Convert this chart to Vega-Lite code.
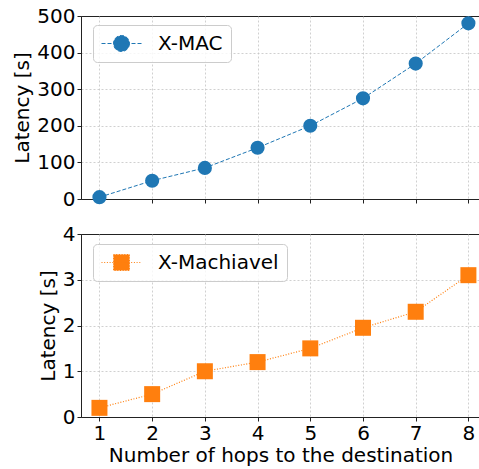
{
  "$schema": "https://vega.github.io/schema/vega-lite/v6.json",
  "padding": {"left": 12, "top": 5, "right": 0, "bottom": 2},
  "config": {
    "font": "DejaVu Sans",
    "view": {"stroke": "#222222", "strokeWidth": 1},
    "axis": {
      "labelFont": "DejaVu Sans",
      "labelFontSize": 20,
      "labelColor": "#000000",
      "titleFont": "DejaVu Sans",
      "titleFontSize": 20,
      "titleFontWeight": "normal",
      "titleColor": "#000000",
      "tickColor": "#222222",
      "domainColor": "#222222",
      "tickSize": 4,
      "labelPadding": 2,
      "grid": true,
      "gridColor": "#c4c4c4",
      "gridDash": [2, 2],
      "gridWidth": 0.8,
      "labelFlush": false,
      "labelOverlap": false
    },
    "legend": {
      "title": null,
      "orient": "none",
      "labelFont": "DejaVu Sans",
      "labelFontSize": 20,
      "labelColor": "#000000",
      "fillColor": "rgba(255,255,255,0.8)",
      "strokeColor": "#cccccc",
      "cornerRadius": 4,
      "padding": 8,
      "symbolSize": 400,
      "symbolOffset": 10,
      "labelOffset": 26,
      "symbolStrokeWidth": 1
    },
    "concat": {"spacing": 13}
  },
  "datasets": {
    "xmac": [
      {"hops": 1, "latency": 5, "series": "X-MAC"},
      {"hops": 2, "latency": 50, "series": "X-MAC"},
      {"hops": 3, "latency": 85, "series": "X-MAC"},
      {"hops": 4, "latency": 140, "series": "X-MAC"},
      {"hops": 5, "latency": 200, "series": "X-MAC"},
      {"hops": 6, "latency": 275, "series": "X-MAC"},
      {"hops": 7, "latency": 370, "series": "X-MAC"},
      {"hops": 8, "latency": 480, "series": "X-MAC"}
    ],
    "xmachiavel": [
      {"hops": 1, "latency": 0.2, "series": "X-Machiavel"},
      {"hops": 2, "latency": 0.5, "series": "X-Machiavel"},
      {"hops": 3, "latency": 1.0, "series": "X-Machiavel"},
      {"hops": 4, "latency": 1.2, "series": "X-Machiavel"},
      {"hops": 5, "latency": 1.5, "series": "X-Machiavel"},
      {"hops": 6, "latency": 1.95, "series": "X-Machiavel"},
      {"hops": 7, "latency": 2.3, "series": "X-Machiavel"},
      {"hops": 8, "latency": 3.1, "series": "X-Machiavel"}
    ]
  },
  "resolve": {
    "scale": {"color": "independent", "y": "independent"},
    "legend": {"color": "independent"}
  },
  "vconcat": [
    {
      "width": 399,
      "height": 183,
      "data": {"name": "xmac"},
      "encoding": {
        "x": {
          "field": "hops",
          "type": "quantitative",
          "scale": {"domain": [0.65, 8.22], "nice": false, "zero": false},
          "axis": {"values": [1, 2, 3, 4, 5, 6, 7, 8], "labels": false, "title": null}
        },
        "y": {
          "field": "latency",
          "type": "quantitative",
          "scale": {"domain": [0, 500], "nice": false},
          "axis": {
            "values": [0, 100, 200, 300, 400, 500],
            "title": "Latency [s]",
            "gridOpacity": {"condition": {"test": "datum.value >= 500", "value": 0}, "value": 1}
          }
        }
      },
      "layer": [
        {"mark": {"type": "line", "color": "#1f77b4", "strokeWidth": 1, "strokeDash": [4, 2]}},
        {
          "mark": {"type": "point", "filled": true, "shape": "circle", "size": 200, "opacity": 1},
          "encoding": {
            "color": {
              "field": "series",
              "type": "nominal",
              "scale": {"range": ["#1f77b4"]},
              "legend": {
                "legendX": 12,
                "legendY": 9,
                "symbolType": "M-2,0L2,0M0.8,0A0.8,0.8,0,1,1,-0.8,0A0.8,0.8,0,1,1,0.8,0Z",
                "symbolDash": [4, 2],
                "symbolStrokeColor": "#1f77b4",
                "symbolFillColor": "#1f77b4"
              }
            }
          }
        }
      ]
    },
    {
      "width": 399,
      "height": 183,
      "data": {"name": "xmachiavel"},
      "encoding": {
        "x": {
          "field": "hops",
          "type": "quantitative",
          "scale": {"domain": [0.65, 8.22], "nice": false, "zero": false},
          "axis": {"values": [1, 2, 3, 4, 5, 6, 7, 8], "title": "Number of hops to the destination", "titlePadding": 2}
        },
        "y": {
          "field": "latency",
          "type": "quantitative",
          "scale": {"domain": [0, 4], "nice": false},
          "axis": {
            "values": [0, 1, 2, 3, 4],
            "title": "Latency [s]",
            "gridOpacity": {"condition": {"test": "datum.value >= 4", "value": 0}, "value": 1}
          }
        }
      },
      "layer": [
        {"mark": {"type": "line", "color": "#ff7f0e", "strokeWidth": 1.2, "strokeDash": [1, 1.7]}},
        {
          "mark": {"type": "point", "filled": true, "shape": "square", "size": 256, "opacity": 1},
          "encoding": {
            "color": {
              "field": "series",
              "type": "nominal",
              "scale": {"range": ["#ff7f0e"]},
              "legend": {
                "legendX": 12,
                "legendY": 10,
                "symbolType": "M-2,0L2,0M-0.8,-0.8L0.8,-0.8L0.8,0.8L-0.8,0.8Z",
                "symbolDash": [1, 1.7],
                "symbolStrokeColor": "#ff7f0e",
                "symbolFillColor": "#ff7f0e"
              }
            }
          }
        }
      ]
    }
  ]
}
